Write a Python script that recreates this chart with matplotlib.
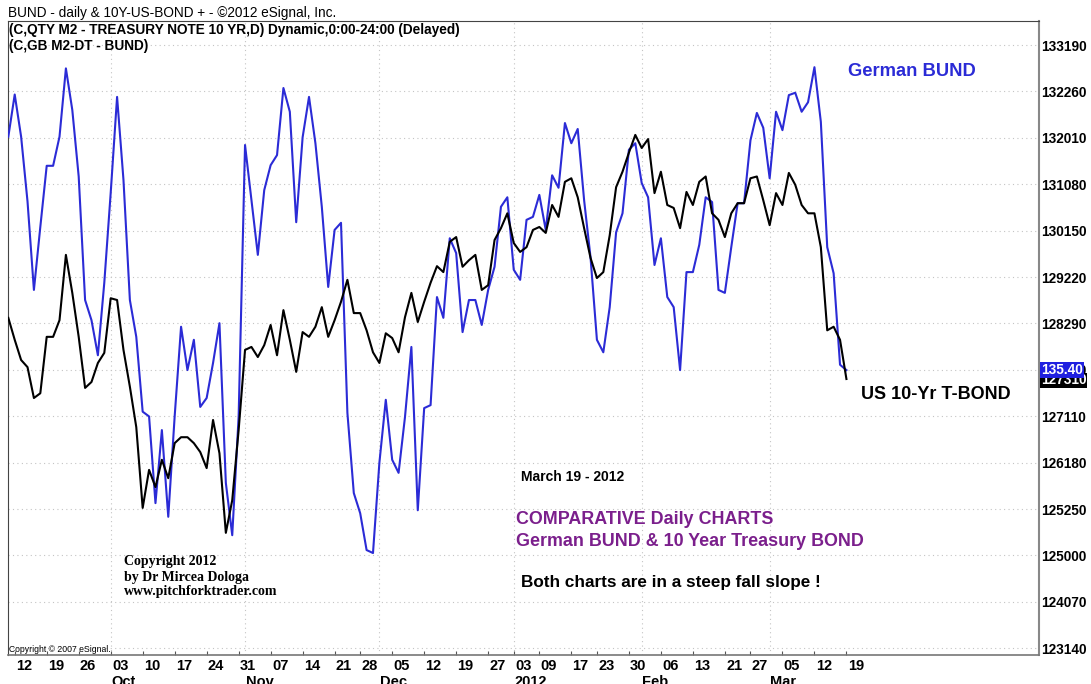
import numpy as np
import pandas as pd
import matplotlib
matplotlib.use("Agg")
import matplotlib.pyplot as plt
from matplotlib.ticker import FixedLocator, FuncFormatter
import matplotlib.transforms as mtransforms

# trading calendar (futures closed on these days)
holidays = ["2011-11-24", "2011-12-26", "2012-01-02", "2012-01-16", "2012-02-20"]

# US 10Y T-note (C,QTY M2), daily close, decimal price
tnote = [129.00, 128.63, 128.29, 128.17, 127.65, 127.73, 128.68, 128.68, 128.96, 130.06,
         129.42, 128.68, 127.82, 127.92, 128.24, 128.41, 129.33, 129.30, 128.46, 127.84,
         127.16, 125.80, 126.44, 126.15, 126.61, 126.30, 126.89, 126.99, 126.99, 126.89,
         126.74, 126.47, 127.28, 126.72, 125.38, 125.93, 127.11, 128.46, 128.51, 128.34,
         128.54, 128.88, 128.37, 129.13, 128.63, 128.09, 128.76, 128.68, 128.85, 129.18,
         128.68, 128.96, 129.27, 129.64, 129.08, 129.08, 128.79, 128.42, 128.24, 128.74,
         128.66, 128.42, 129.01, 129.42, 128.93, 129.27, 129.59, 129.87, 129.77, 130.28,
         130.36, 129.86, 129.97, 130.06, 129.47, 129.55, 130.31, 130.51, 130.76, 130.26,
         130.11, 130.19, 130.48, 130.53, 130.43, 130.90, 130.70, 131.29, 131.35, 131.03,
         130.51, 130.01, 129.67, 129.77, 130.39, 131.20, 131.46, 131.78, 132.08, 131.86,
         132.01, 131.10, 131.46, 130.90, 130.85, 130.51, 131.12, 130.90, 131.29, 131.38,
         130.76, 130.65, 130.36, 130.76, 130.93, 130.93, 131.35, 131.38, 130.98, 130.56,
         131.10, 130.90, 131.44, 131.24, 130.90, 130.76, 130.76, 130.19, 128.79, 128.85,
         128.63, 127.97]

# German BUND (C,GB M2-DT), overlaid on the same price scale
bund = [132.05, 132.76, 132.05, 130.96, 129.47, 130.53, 131.56, 131.56, 132.05, 133.20,
        132.50, 131.38, 129.30, 128.96, 128.37, 129.59, 131.10, 132.72, 131.32, 129.30,
        128.68, 127.42, 127.34, 125.88, 127.11, 125.65, 127.34, 128.85, 128.12, 128.63,
        127.50, 127.65, 128.24, 128.91, 126.22, 125.34, 127.34, 131.91, 130.98, 130.06,
        131.15, 131.57, 131.74, 132.87, 132.47, 130.61, 132.04, 132.72, 131.94, 130.87,
        129.52, 130.48, 130.60, 127.40, 126.05, 125.71, 125.09, 125.04, 126.56, 127.62,
        126.61, 126.39, 127.33, 128.51, 125.76, 127.48, 127.53, 129.35, 129.00, 130.34,
        130.09, 128.76, 129.30, 129.30, 128.88, 129.47, 129.86, 130.87, 131.03, 129.81,
        129.64, 130.65, 130.70, 131.07, 130.48, 131.40, 131.19, 132.28, 131.94, 132.18,
        130.98, 130.02, 128.63, 128.42, 129.18, 130.44, 130.76, 131.83, 131.94, 131.27,
        131.03, 129.89, 130.34, 129.35, 129.18, 128.12, 129.77, 129.77, 130.23, 131.03,
        130.95, 129.47, 129.42, 130.19, 130.93, 130.93, 131.99, 132.45, 132.20, 131.35,
        132.47, 132.16, 132.75, 132.79, 132.47, 132.63, 133.22, 132.30, 130.19, 129.75,
        128.21, 128.12]

tick_dates = ["2011-09-12", "2011-09-19", "2011-09-26", "2011-10-03", "2011-10-10", "2011-10-17",
              "2011-10-24", "2011-10-31", "2011-11-07", "2011-11-14", "2011-11-21", "2011-11-28",
              "2011-12-05", "2011-12-12", "2011-12-19", "2011-12-27", "2012-01-03", "2012-01-09",
              "2012-01-17", "2012-01-23", "2012-01-30", "2012-02-06", "2012-02-13", "2012-02-21",
              "2012-02-27", "2012-03-05", "2012-03-12", "2012-03-19"]
month_names = ["Oct", "Nov", "Dec", "2012", "Feb", "Mar"]

bund_last = "135.40"

days = pd.bdate_range("2011-09-09", "2012-03-19")
days = days[~days.isin(pd.to_datetime(holidays))]
x = np.arange(len(days))

plt.rcParams['font.family'] = ['Liberation Sans', 'DejaVu Sans']

W, H = 1091, 684
fig = plt.figure(figsize=(W / 100, H / 100), dpi=100)
ax = fig.add_axes([8 / W, 29 / H, 1031 / W, 634 / H])

ax.plot(x, bund, color='#2b2bd6', lw=1.5, zorder=3)
ax.plot(x, tnote, color='black', lw=1.5, zorder=4)

ax.set_xlim(-0.05, 161.1)
ax.set_ylim(123.323, 133.998)

# price axis in 32nds, step 25/32
yt = 123.4375 + np.arange(14) * 0.78125
def fmt32(p, pos=None):
    whole = int(np.floor(p + 1e-6))
    n32 = int(round((p - whole) * 32))
    return "%d%02d0" % (whole, n32)
ax.yaxis.set_major_locator(FixedLocator(yt))
ax.yaxis.set_major_formatter(FuncFormatter(fmt32))
ax.yaxis.tick_right()
ax.tick_params(axis='y', length=0, pad=1.5, labelsize=9.8)
for lab in ax.get_yticklabels():
    lab.set_fontweight('bold')

# x axis: trading-day index, labels from calendar
pos = [days.get_loc(pd.Timestamp(d)) for d in tick_dates]
ax.xaxis.set_major_locator(FixedLocator(pos))
ax.set_xticklabels([])
ax.tick_params(axis='x', direction='in', length=3, color='#555555')
trans = mtransforms.blended_transform_factory(ax.transData, ax.transAxes)
for p, d in zip(pos, tick_dates):
    ax.text(p + 0.2, -0.006, pd.Timestamp(d).strftime("%d"), transform=trans,
            ha='left', va='top', fontsize=10.5, fontweight='bold')
month_start = [i for i in range(1, len(days)) if days[i].month != days[i - 1].month]
for p, name in zip(month_start, month_names):
    ax.text(p + 0.1, -0.031, name, transform=trans, ha='left', va='top',
            fontsize=10.5, fontweight='bold')

# grids
for v in yt:
    ax.axhline(v, color='#c4c4c4', lw=0.8, ls=(0, (1, 3)), zorder=1)
for p in month_start:
    ax.axvline(p, color='#c4c4c4', lw=0.8, ls=(0, (1, 3)), zorder=1)

for s in ['left', 'top']:
    ax.spines[s].set_color('#444444')
ax.spines['right'].set_color('#888888')
ax.spines['right'].set_linewidth(1.5)
ax.spines['bottom'].set_color('#777777')
ax.spines['bottom'].set_linewidth(1.2)

# last-value boxes on the price scale
ax.annotate(fmt32(np.floor(tnote[-1] * 32 + 0.5) / 32), xy=(1.0, tnote[-1]),
            xycoords=('axes fraction', 'data'), xytext=(1.5, -1), textcoords='offset points',
            ha='left', va='center', fontsize=9.8, fontweight='bold', color='white',
            bbox=dict(boxstyle='square,pad=0.05', fc='black', ec='none'), zorder=10,
            annotation_clip=False)
ax.annotate(bund_last, xy=(1.0, bund[-1]),
            xycoords=('axes fraction', 'data'), xytext=(1.5, 0), textcoords='offset points',
            ha='left', va='center', fontsize=9.8, fontweight='bold', color='white',
            bbox=dict(boxstyle='square,pad=0.05', fc='#2020e0', ec='none'), zorder=11,
            annotation_clip=False)

# header
fig.text(8 / W, 1 - 13 / H, "BUND - daily & 10Y-US-BOND + - \u00a92012 eSignal, Inc.",
         fontsize=9.8, va='center')
fig.text(9 / W, 1 - 30 / H, "(C,QTY M2 - TREASURY NOTE 10 YR,D) Dynamic,0:00-24:00 (Delayed)",
         fontsize=9.8, fontweight='bold', va='center')
fig.text(9 / W, 1 - 46 / H, "(C,GB M2-DT - BUND)", fontsize=9.8, fontweight='bold', va='center')

# annotations
fig.text(848 / W, 1 - 72 / H, "German BUND", fontsize=13.2, fontweight='bold',
         color='#2b2bd6', va='center')
fig.text(861 / W, 1 - 394 / H, "US 10-Yr T-BOND", fontsize=13, fontweight='bold', va='center')
fig.text(521 / W, 1 - 477 / H, "March 19 - 2012", fontsize=10, fontweight='bold', va='center')
fig.text(516 / W, 1 - 520 / H, "COMPARATIVE Daily CHARTS", fontsize=12.9, fontweight='bold',
         color='#7b1f8c', va='center')
fig.text(516 / W, 1 - 541 / H, "German BUND & 10 Year Treasury BOND", fontsize=12.9,
         fontweight='bold', color='#7b1f8c', va='center')
fig.text(521 / W, 1 - 583 / H, "Both charts are in a steep fall slope !", fontsize=12.3,
         fontweight='bold', va='center')
fig.text(124 / W, 1 - 577 / H, "Copyright 2012\nby Dr Mircea Dologa\nwww.pitchforktrader.com",
         fontsize=10, fontweight='bold', family=['Liberation Serif', 'DejaVu Serif'],
         va='center', linespacing=1.2)
fig.text(9 / W, 1 - 649 / H, "Copyright \u00a9 2007 eSignal.", fontsize=6.2, va='center')

fig.savefig("out.png", dpi=100)
